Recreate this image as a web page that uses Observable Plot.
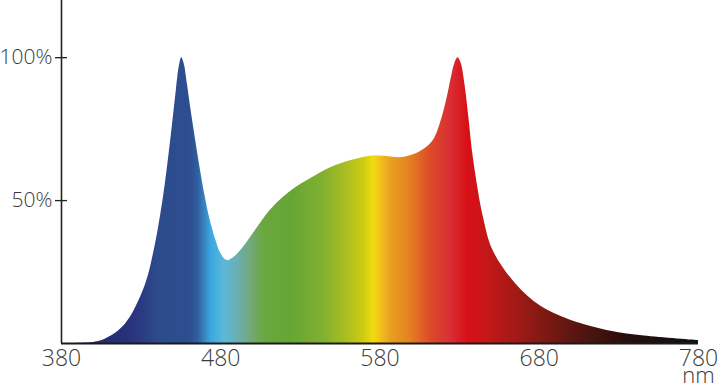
<!DOCTYPE html>
<html>
<head>
<meta charset="utf-8">
<script src="https://cdn.jsdelivr.net/npm/d3@7"></script>
<script src="https://cdn.jsdelivr.net/npm/@observablehq/plot@0.6"></script>
<style>
  html, body { margin: 0; padding: 0; background: #fff; }
</style>
</head>
<body>
<div id="chart"></div>
<script>
// Wavelength (nm) and relative intensity (%)
const wavelengths = [380, 398, 405, 416, 423, 433, 438, 442, 445, 447.5, 450, 452, 454, 455.5, 457, 459, 461, 464, 467, 470, 473, 477, 480, 484, 488, 494, 503, 511, 519, 527, 535, 549, 562, 574, 582, 593, 601, 609, 614, 619, 622, 625, 627, 629, 631, 633.5, 636, 638, 641, 645, 651, 665, 681, 698, 706, 725, 746, 780];
const intensity   = [0, 0.3, 1, 4.5, 9, 21, 32, 44, 55, 66, 78, 88, 97, 100, 98, 91, 83, 72, 61.5, 52, 44, 36, 31.5, 29, 30, 33.5, 40.5, 46.5, 51, 54.5, 57.2, 61.5, 64, 65.5, 65.5, 65, 66, 68.5, 71.5, 79, 85.5, 93.5, 98, 100, 98, 90, 78, 67.5, 56, 44, 32.5, 21, 13, 8.5, 7, 4.3, 2.6, 1];

// Spectrum colour stops (wavelength nm -> colour)
const stopNm     = [380, 419, 430, 440, 461, 466, 474, 482, 490, 499, 507, 524, 544, 561, 570, 576, 582, 587, 599, 612, 624, 635, 649, 670, 691, 712, 733, 775, 780];
const stopColors = ["#1e2560", "#27307a", "#2a3a82", "#2c4a8c", "#2d4e90", "#3060a0", "#3aa8e0", "#5ab8d8", "#6ab0b8", "#72a878", "#6aa840", "#66a535", "#80b030", "#b0c020", "#d0cc10", "#f0dc10", "#f0b820", "#e8a020", "#e48020", "#dc4a2a", "#d83035", "#d81018", "#c01818", "#9a1a16", "#701812", "#4a1410", "#2a0e0c", "#111111", "#111111"];

const xTicks = [380, 480, 580, 680, 780];
const yTicks = [50, 100];
const unitLabel = "nm";

const data = wavelengths.map((w, i) => ({w, v: intensity[i]}));

const plot = Plot.plot({
  width: 720,
  height: 389,
  marginLeft: 61,
  marginRight: 22,
  marginTop: 0,
  marginBottom: 46,
  x: {domain: [380, 780]},
  y: {domain: [0, 120]},
  style: {fontFamily: "'Open Sans', sans-serif", fontSize: "23px", fontWeight: 300, color: "#3a3a3a", background: "#fff"},
  marks: [
    Plot.areaY(data, {x: "w", y: "v", fill: "url(#spectrum)", curve: "catmull-rom"}),
    Plot.ruleX([xTicks[0]], {y1: 0, y2: 120, stroke: "#222", strokeWidth: 1.6}),
    Plot.ruleY([0], {stroke: "#1a1a1a", strokeWidth: 2.2}),
    Plot.axisY({ticks: yTicks, tickSize: 12, dx: 6, tickPadding: 3, fontSize: 21, tickFormat: d => `${d}%`, label: null, stroke: "#222", strokeWidth: 1.3, fill: "#3a3a3a", style: {letterSpacing: "-1px"}}),
    Plot.axisX({ticks: xTicks, tickSize: 0, tickPadding: 6, label: null, fill: "#3a3a3a", style: {letterSpacing: "-1.2px"}}),
    Plot.text([{x: xTicks[xTicks.length - 1], t: unitLabel}], {x: "x", text: "t", frameAnchor: "bottom", dy: 32, fontSize: 22, fill: "#3a3a3a", textAnchor: "middle", lineAnchor: "middle"})
  ]
});

const xs = plot.scale("x");
const defs = d3.select(plot).insert("defs", ":first-child");
const grad = defs.append("linearGradient")
  .attr("id", "spectrum")
  .attr("gradientUnits", "userSpaceOnUse")
  .attr("x1", xs.apply(380)).attr("x2", xs.apply(780))
  .attr("y1", 0).attr("y2", 0);
stopNm.forEach((nm, i) => {
  grad.append("stop").attr("offset", (nm - 380) / 400).attr("stop-color", stopColors[i]);
});

document.getElementById("chart").appendChild(plot);
</script>
</body>
</html>
